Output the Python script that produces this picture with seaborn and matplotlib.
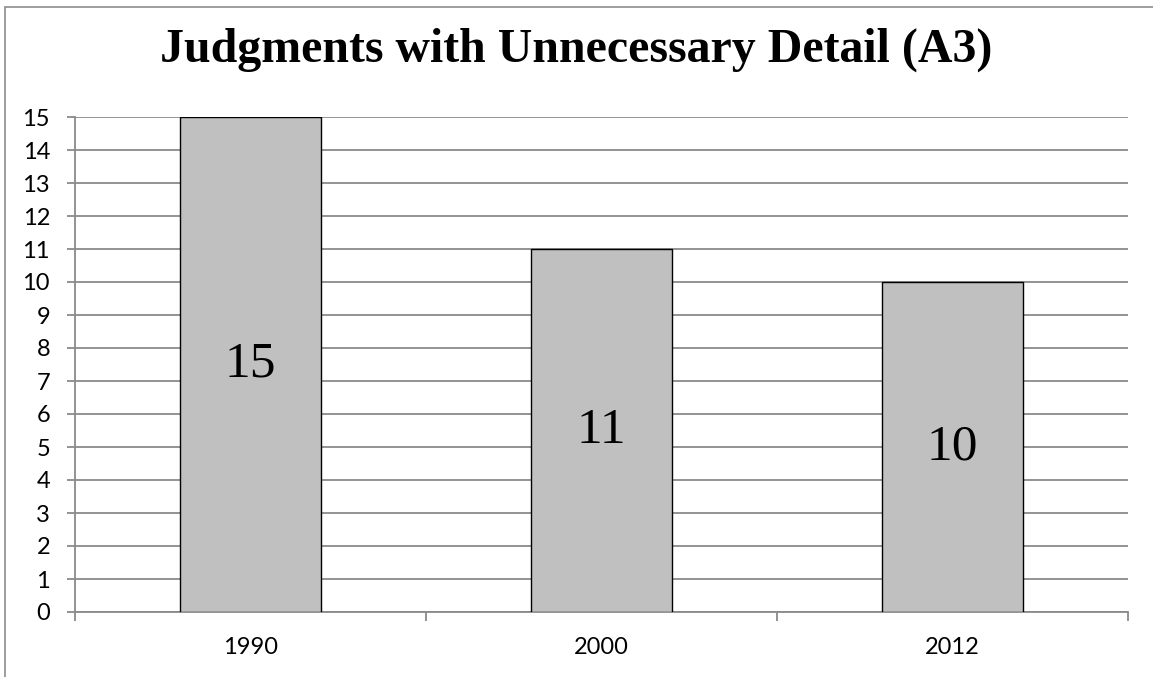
import matplotlib
matplotlib.use("Agg")
import matplotlib.pyplot as plt
import matplotlib.patches as mpatches
import seaborn as sns
import pandas as pd

years = ["1990", "2000", "2012"]
counts = [15, 11, 10]
title = "Judgments with Unnecessary Detail (A3)"

sns.set_theme(style="white")
plt.rcParams["font.family"] = ["Lato", "DejaVu Sans"]

df = pd.DataFrame({"year": years, "count": counts})

fig = plt.figure(figsize=(11.53, 6.77), dpi=100)
ax = fig.add_axes([75 / 1153, 1 - 612 / 677, (1128 - 75) / 1153, (612 - 117) / 677])

grid_col = "#8a8a8a"
sns.barplot(data=df, x="year", y="count", order=years, color="#c0c0c0",
            edgecolor="black", linewidth=1.0, width=0.4, saturation=1, ax=ax, zorder=3)

ax.set_xlim(-0.5, len(years) - 0.5)
ax.set_ylim(0, 15)
ax.set_yticks(range(0, 16))
ax.yaxis.grid(True, color=grid_col, linewidth=1.3, zorder=0)
ax.set_axisbelow(True)
ax.set_xlabel("")
ax.set_ylabel("")

for side in ["top", "right"]:
    ax.spines[side].set_visible(False)
for side in ["left", "bottom"]:
    ax.spines[side].set_color(grid_col)
    ax.spines[side].set_linewidth(1.3)

ax.tick_params(axis="y", which="major", direction="out", length=6, width=1.3,
               color=grid_col, pad=12, labelsize=17, labelcolor="black", left=True)
ax.tick_params(axis="x", which="major", length=0, pad=18, labelsize=17, labelcolor="black")
ax.set_xticks([i - 0.5 for i in range(len(years) + 1)], minor=True)
ax.tick_params(axis="x", which="minor", direction="out", length=6.5, width=1.3,
               color=grid_col, bottom=True)

# value labels centred inside each bar
for i, v in enumerate(counts):
    ax.text(i, v / 2, str(v), ha="center", va="center", fontsize=37,
            family="Liberation Serif", color="black", zorder=4)

fig.text(0.5, 1 - 50 / 677, title, ha="center", va="center", fontsize=34.5,
         fontweight="bold", family="Liberation Serif", color="black")

# chart-area frame
frame = mpatches.Rectangle((5 / 1153, -0.2), 1.2, 1.2 - 7 / 677, transform=fig.transFigure,
                           fill=False, edgecolor="#8c8c8c", linewidth=1.2, clip_on=False)
fig.add_artist(frame)

fig.savefig("out.png", dpi=100)
